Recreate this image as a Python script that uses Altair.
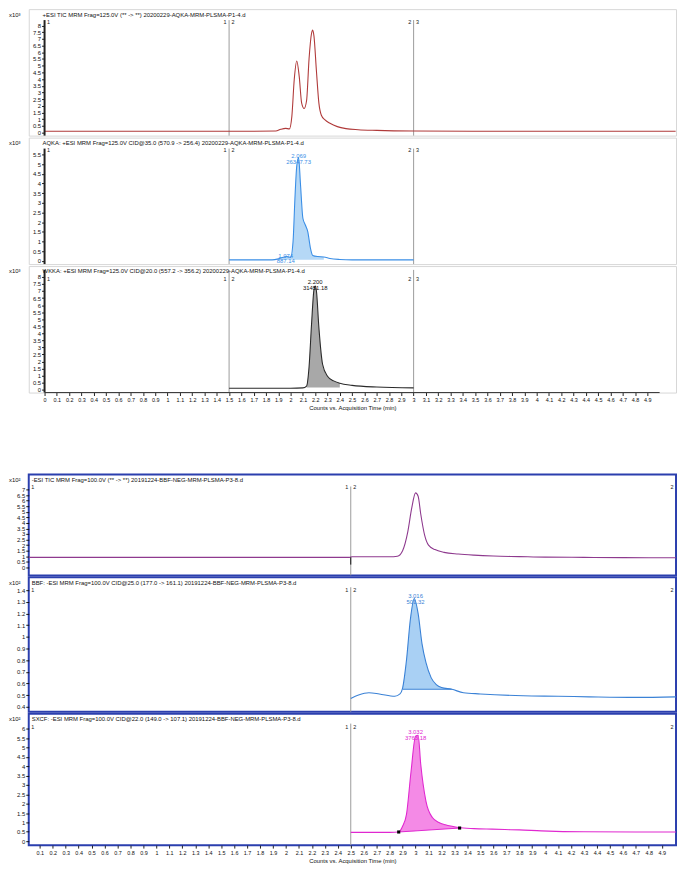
import altair as alt
import pandas as pd

FONT = "Liberation Sans"

# ---------------- Figure A (top), counts x10^3 ----------------
a_tic_t = [0.00, 1.50, 1.88, 1.92, 1.96, 1.99, 2.01, 2.03, 2.05, 2.07, 2.09, 2.11, 2.13, 2.15, 2.17, 2.18,
           2.19, 2.21, 2.23, 2.25, 2.28, 2.32, 2.38, 2.45, 2.55, 2.70, 3.00, 3.50, 4.00, 5.13]
a_tic_v = [0.10, 0.10, 0.12, 0.25, 0.32, 0.28, 1.20, 4.00, 5.35, 4.20, 2.20, 1.80, 2.40, 5.50, 7.40, 7.65,
           7.20, 4.60, 2.20, 1.30, 0.95, 0.70, 0.45, 0.30, 0.22, 0.17, 0.12, 0.10, 0.10, 0.10]

a_aqka_t = [1.50, 1.85, 1.90, 1.94, 1.97, 2.00, 2.02, 2.035, 2.05, 2.065, 2.08, 2.10, 2.12, 2.14, 2.16,
            2.18, 2.22, 2.27, 2.32, 2.40, 2.50, 3.00]
a_aqka_v = [0.05, 0.05, 0.10, 0.18, 0.22, 0.18, 1.00, 3.20, 4.90, 5.34, 4.00, 2.20, 1.85, 1.50, 0.70,
            0.28, 0.22, 0.20, 0.12, 0.07, 0.05, 0.05]

a_wkka_t = [1.50, 2.00, 2.10, 2.13, 2.15, 2.17, 2.19, 2.20, 2.21, 2.23, 2.26, 2.30, 2.35, 2.40, 2.50, 2.70, 3.00]
a_wkka_v = [0.10, 0.10, 0.12, 0.25, 1.60, 4.60, 7.10, 7.35, 7.00, 4.40, 1.80, 0.95, 0.62, 0.45, 0.30, 0.18, 0.12]

# ---------------- Figure B (bottom), counts x10^2 ----------------
b_tic_t = [0.00, 2.49, 2.51, 2.80, 2.86, 2.90, 2.94, 2.97, 3.00, 3.02, 3.04, 3.07, 3.10, 3.15, 3.22, 3.33,
           3.45, 3.60, 3.80, 4.00, 4.30, 4.60, 5.01]
b_tic_v = [0.90, 0.90, 0.95, 0.95, 1.00, 1.50, 3.20, 5.30, 6.70, 6.40, 4.80, 2.90, 2.00, 1.60, 1.35, 1.20,
           1.10, 1.02, 0.97, 0.92, 0.90, 0.88, 0.87]
b_tic_dip = [2.50, 0.90, 0.25]   # small negative glitch at the segment boundary (t, from, to)

b_bbf_t = [2.50, 2.56, 2.64, 2.72, 2.84, 2.88, 2.90, 2.93, 2.96, 2.99, 3.02, 3.05, 3.08, 3.12, 3.16, 3.20,
           3.28, 3.37, 3.50, 3.83, 4.10, 4.34, 4.70, 5.01]
b_bbf_v = [0.47, 0.50, 0.52, 0.51, 0.49, 0.51, 0.56, 0.80, 1.15, 1.33, 1.20, 0.94, 0.78, 0.65, 0.59, 0.565,
           0.55, 0.52, 0.51, 0.494, 0.49, 0.485, 0.48, 0.485]

b_sxcf_t = [2.50, 2.80, 2.87, 2.90, 2.93, 2.965, 3.00, 3.02, 3.04, 3.08, 3.13, 3.18, 3.23, 3.33, 3.45,
            3.59, 3.69, 3.80, 3.97, 4.30, 4.70, 5.01]
b_sxcf_v = [0.47, 0.47, 0.49, 0.80, 1.43, 3.70, 5.60, 5.65, 4.10, 2.14, 1.26, 1.00, 0.87, 0.73, 0.67,
            0.64, 0.62, 0.60, 0.55, 0.50, 0.49, 0.49]
sxcf_base_t = [2.87, 3.34]
sxcf_base_v = [0.49, 0.70]

# peak annotations: (time, height, label)
a_aqka_ann = [(2.065, 5.34, "2.069\n26347.73"), (1.96, 0.22, "1.974\n887.14")]
a_wkka_ann = [(2.20, 7.35, "2.200\n31451.18")]
b_bbf_ann = [(3.00, 1.33, "3.016\n501.32")]
b_sxcf_ann = [(3.00, 5.65, "3.032\n3763.18")]

headers = [
    "+ESI TIC MRM Frag=125.0V (** -> **) 20200229-AQKA-MRM-PLSMA-P1-4.d",
    "AQKA: +ESI MRM Frag=125.0V CID@35.0 (570.9 -> 256.4) 20200229-AQKA-MRM-PLSMA-P1-4.d",
    "WKKA: +ESI MRM Frag=125.0V CID@20.0 (557.2 -> 356.2) 20200229-AQKA-MRM-PLSMA-P1-4.d",
    "-ESI TIC MRM Frag=100.0V (** -> **) 20191224-BBF-NEG-MRM-PLSMA-P3-8.d",
    "BBF: -ESI MRM Frag=100.0V CID@25.0 (177.0 -> 161.1) 20191224-BBF-NEG-MRM-PLSMA-P3-8.d",
    "SXCF: -ESI MRM Frag=100.0V CID@22.0 (149.0 -> 107.1) 20191224-BBF-NEG-MRM-PLSMA-P3-8.d",
]

top_xticks = [round(i * 0.1, 1) for i in range(50)]
bot_xticks = [round(i * 0.1, 1) for i in range(1, 50)]
yt_8 = [i * 0.5 for i in range(17)]
yt_55 = [i * 0.5 for i in range(12)]
yt_7 = [i * 0.5 for i in range(15)]
yt_14 = [round(0.4 + i * 0.1, 1) for i in range(11)]
yt_6 = [i * 0.5 for i in range(13)]

XTITLE = "Counts vs. Acquisition Time (min)"
W = 655
TOP_XDOM = [-0.1285, 5.133]
BOT_XDOM = [0.015, 5.01]


def make_panel(t, v, color, ydom, yticks, height, header, exponent, top_fig,
               seg_top, fill=None, ann=None, ann_color=None, ann_dy=0, xaxis=False,
               base_line=None, dip=None):
    xdom = TOP_XDOM if top_fig else BOT_XDOM
    xsc = alt.Scale(domain=xdom, nice=False, zero=False)
    ysc = alt.Scale(domain=ydom, nice=False, zero=False)
    df = pd.DataFrame({"t": t, "v": v})

    YA = alt.Axis(values=yticks, format="~g", title=None, domain=False, tickSize=3,
                  tickColor="#111", labelFontSize=6, labelPadding=1, labelOverlap=False,
                  labelColor="#111", grid=False, offset=(-16 if top_fig else 0))
    if xaxis:
        XA = alt.Axis(values=(top_xticks if top_fig else bot_xticks), format="~g",
                      title=XTITLE, domain=False, tickSize=3, tickColor="#222",
                      labelFontSize=5.5, labelOverlap=False, labelPadding=2,
                      labelColor="#111", labelFlush=False, labelBound=False,
                      titleFontSize=6, titleFontWeight="normal", titlePadding=2,
                      titleColor="#111", grid=False)
    else:
        XA = None

    def X(f):
        return alt.X(f, scale=xsc, axis=XA, title=(XTITLE if xaxis else None))

    def Y(f):
        return alt.Y(f, scale=ysc, axis=YA, title=None)

    layers = []

    layers.append(alt.Chart(df).mark_line(color=color, strokeWidth=1.1, interpolate="monotone",
                                          clip=True).encode(x=X("t:Q"), y=Y("v:Q")))

    if fill is not None:
        t0, t1, base_expr, fcolor = fill
        area = (alt.Chart(df)
                .transform_filter(f"datum.t >= {t0} && datum.t <= {t1}")
                .transform_calculate(b=base_expr)
                .mark_area(color=fcolor, interpolate="monotone")
                .encode(x=X("t:Q"), y=Y("v:Q"), y2="b:Q"))
        layers.insert(0, area)

    seg_x = [1.5, 3.0] if top_fig else [2.5]
    seg_df = pd.DataFrame({"t": seg_x, "top": [seg_top] * len(seg_x), "bot": [ydom[0]] * len(seg_x)})
    layers.insert(0, alt.Chart(seg_df).mark_rule(color="#9a9a9a", strokeWidth=1).encode(
        x=X("t:Q"), y=Y("top:Q"), y2="bot:Q"))

    if top_fig:
        ax_df = pd.DataFrame({"t": [0.0], "top": [seg_top], "bot": [ydom[0]]})
        layers.append(alt.Chart(ax_df).mark_rule(color="#222", strokeWidth=2).encode(
            x=X("t:Q"), y=Y("top:Q"), y2="bot:Q"))
        if xaxis:
            xl_df = pd.DataFrame({"t": [0.0], "b": [5.0], "y": [ydom[0]]})
            layers.append(alt.Chart(xl_df).mark_rule(color="#333", strokeWidth=1).encode(
                x=X("t:Q"), x2="b:Q", y=Y("y:Q")))

    if dip is not None:
        ddf = pd.DataFrame({"t": [dip[0]], "v": [dip[1]], "v2": [dip[2]]})
        layers.append(alt.Chart(ddf).mark_rule(color="#111", strokeWidth=1).encode(
            x=X("t:Q"), y=Y("v:Q"), y2="v2:Q"))

    if base_line is not None:
        bt, bv, bcolor, markers = base_line
        bdf = pd.DataFrame({"t": [bt[0]], "t2": [bt[1]], "v": [bv[0]], "v2": [bv[1]]})
        layers.append(alt.Chart(bdf).mark_rule(color=bcolor, strokeWidth=1).encode(
            x=X("t:Q"), x2="t2:Q", y=Y("v:Q"), y2="v2:Q"))
        if markers:
            mdf = pd.DataFrame({"t": bt, "v": bv})
            layers.append(alt.Chart(mdf).mark_square(color="#000", size=10, opacity=1).encode(
                x=X("t:Q"), y=Y("v:Q")))

    if top_fig:
        right_lab = pd.DataFrame({"t": [0.0, 1.5, 3.0], "s": ["1", "2", "3"]})
        left_lab = pd.DataFrame({"t": [1.5, 3.0], "s": ["1", "2"]})
    else:
        right_lab = pd.DataFrame({"t": [BOT_XDOM[0], 2.5], "s": ["1", "2"]})
        left_lab = pd.DataFrame({"t": [2.5, BOT_XDOM[1]], "s": ["1", "2"]})
    layers.append(alt.Chart(right_lab).mark_text(align="left", baseline="middle", fontSize=5.5,
                                                 dx=2.5, color="#222").encode(
        x=X("t:Q"), y=alt.value(13), text="s:N"))
    layers.append(alt.Chart(left_lab).mark_text(align="right", baseline="middle", fontSize=5.5,
                                                dx=-2.5, color="#222").encode(
        x=X("t:Q"), y=alt.value(13), text="s:N"))

    if ann:
        adf = pd.DataFrame({"t": [a[0] for a in ann], "v": [a[1] for a in ann],
                            "s": [a[2] for a in ann]})
        layers.append(alt.Chart(adf).mark_text(align="center", baseline="bottom", fontSize=6,
                                               lineBreak="\n", lineHeight=6, dy=ann_dy,
                                               color=ann_color).encode(
            x=X("t:Q"), y=Y("v:Q"), text="s:N"))

    hdf = pd.DataFrame({"s": [header]})
    layers.append(alt.Chart(hdf).mark_text(align="left", baseline="middle", fontSize=6,
                                           color="#111").encode(
        x=alt.value(14 if top_fig else 3), y=alt.value(5.5), text="s:N"))
    edf = pd.DataFrame({"s": [exponent]})
    layers.append(alt.Chart(edf).mark_text(align="left", baseline="middle", fontSize=6,
                                           color="#111").encode(
        x=alt.value(-20), y=alt.value(5.5), text="s:N"))

    view = (alt.ViewBackground(stroke="#d6d6d6", strokeWidth=1) if top_fig
            else alt.ViewBackground(stroke="#2b3fae", strokeWidth=2))
    return alt.layer(*layers).properties(width=W, height=height, view=view)


p1 = make_panel(a_tic_t, a_tic_v, "#b03a3a", [-0.221, 9.217], yt_8, 128, headers[0], "x10³",
                True, 8.4)
p2 = make_panel(a_aqka_t, a_aqka_v, "#3a8ee6", [-0.169, 6.368], yt_55, 128, headers[1], "x10³",
                True, 5.8, fill=(1.88, 2.28, "0.05", "#b5d8f6"), ann=a_aqka_ann,
                ann_color="#3a8ee6", ann_dy=2)
p3 = make_panel(a_wkka_t, a_wkka_v, "#2a2a2a", [-0.21, 8.772], yt_8, 128, headers[2], "x10³",
                True, 8.5, fill=(2.12, 2.40, "0.15", "#a8a8a8"), ann=a_wkka_ann,
                ann_color="#111", ann_dy=-1, xaxis=True)

spacer = alt.Chart(pd.DataFrame({"s": [0]})).mark_point(opacity=0).encode(
    x=alt.X("s:Q", axis=None), y=alt.Y("s:Q", axis=None)).properties(
    width=W, height=79, view=alt.ViewBackground(strokeOpacity=0))

slope = (sxcf_base_v[1] - sxcf_base_v[0]) / (sxcf_base_t[1] - sxcf_base_t[0])
sx_expr = f"{sxcf_base_v[0]} + (datum.t - {sxcf_base_t[0]}) * {slope}"

b1 = make_panel(b_tic_t, b_tic_v, "#8e3a8e", [-0.718, 8.346], yt_7, 102, headers[3], "x10²",
                False, 7.27, dip=b_tic_dip)
b2 = make_panel(b_bbf_t, b_bbf_v, "#3b82d6", [0.357, 1.511], yt_14, 136, headers[4], "x10²",
                False, 1.426, fill=(2.90, 3.28, "0.55", "#a9d0f4"), ann=b_bbf_ann,
                ann_color="#3b82d6", ann_dy=1,
                base_line=([2.90, 3.28], [0.55, 0.55], "#3b82d6", False))
b3 = make_panel(b_sxcf_t, b_sxcf_v, "#e028d0", [-0.212, 6.797], yt_6, 133, headers[5], "x10²",
                False, 6.27, fill=(2.87, 3.34, sx_expr, "#f48ae6"), ann=b_sxcf_ann,
                ann_color="#e028d0", ann_dy=0, xaxis=True,
                base_line=(sxcf_base_t, sxcf_base_v, "#e028d0", True))

chart = alt.vconcat(p1, p2, p3, spacer, b1, b2, b3, spacing=2, bounds="flush").properties(
    padding={"top": -5, "left": 0, "right": 0, "bottom": 0}
).configure(font=FONT)

chart.save("out.html", embed_options={"renderer": "svg", "actions": False})
